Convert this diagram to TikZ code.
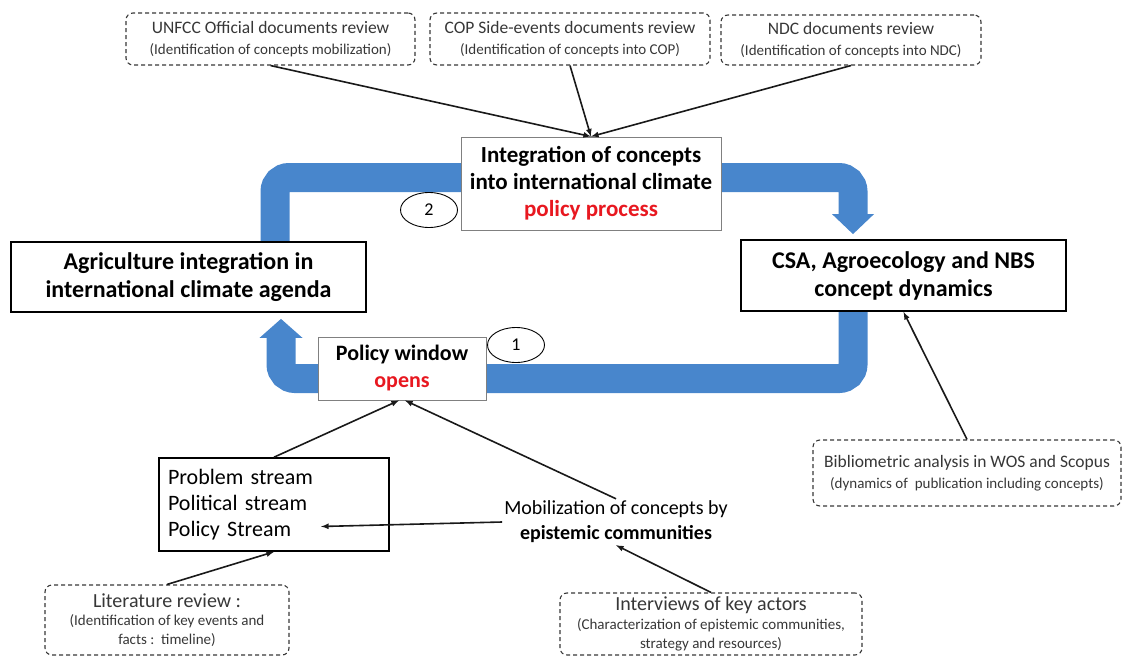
\documentclass[tikz,border=0pt]{standalone}
\usepackage{fontspec}
\setmainfont{Carlito}
\usepackage{xcolor}
\usepackage{tikz}
\usetikzlibrary{calc}
\tikzset{>=latex}
\usetikzlibrary{arrows.meta}
\usetikzlibrary{shapes.geometric}
\usetikzlibrary{backgrounds}
\definecolor{bandblue}{RGB}{72,134,204}
\definecolor{openred}{RGB}{232,24,32}
\definecolor{notegray}{RGB}{55,55,55}
\tikzset{mainbox/.style={draw,line width=1.8pt,fill=white,align=center,inner sep=0pt}}
\tikzset{stagebox/.style={draw=black!50,line width=0.9pt,fill=white,align=center,inner sep=0pt}}
\tikzset{notebox/.style={draw=notegray,dash pattern=on 4pt off 3pt,rounded corners=7pt,line width=1.1pt,align=center,inner sep=0pt,text=notegray,font=\fontsize{15}{21}\selectfont}}
\tikzset{numcirc/.style={draw,ellipse,line width=0.9pt,inner sep=0pt,minimum width=57pt,minimum height=35pt,font=\fontsize{18}{18}\selectfont}}
\tikzset{band/.style={line width=29pt,draw=bandblue,rounded corners=14pt}}
\tikzset{feed/.style={->,line width=1.6pt,black!90}}
\newcommand{\ntitle}[1]{{\fontsize{17.5}{21}\selectfont #1}}
\newcommand{\nbig}[1]{{\fontsize{20}{22}\selectfont #1}}

\begin{document}
\begin{tikzpicture}[x=1pt,y=-1pt]
\useasboundingbox (0,0) rectangle (1125,656);
% documents reviewed
\node[notebox,minimum width=289pt,minimum height=52pt] (unfcc) at (270.5,39) {\ntitle{UNFCC Official documents review}\\(Identification of concepts mobilization)};
\node[notebox,minimum width=280pt,minimum height=52pt] (cop) at (570,39) {\ntitle{COP Side-events documents review}\\(Identification of concepts into COP)};
\node[notebox,minimum width=260pt,minimum height=50pt] (ndc) at (851,40) {\ntitle{NDC documents review}\\(Identification of concepts into NDC)};
% stages of the cycle
\node[stagebox,minimum width=260pt,minimum height=93pt,font=\bfseries\fontsize{23}{27}\selectfont] (integ) at (591,183.5) {Integration of concepts\\into international climate\\\textcolor{openred}{policy process}};
\node[mainbox,minimum width=355pt,minimum height=70pt,font=\bfseries\fontsize{24}{28}\selectfont] (agri) at (188.5,277) {Agriculture integration in\\international climate agenda};
\node[mainbox,minimum width=325pt,minimum height=71pt,font=\bfseries\fontsize{24}{28}\selectfont] (csa) at (903.5,275.5) {CSA, Agroecology and NBS\\concept dynamics};
\node[stagebox,minimum width=168pt,minimum height=63pt,font=\bfseries\fontsize{22}{27}\selectfont] (pwin) at (402,368.5) {Policy window\\\textcolor{openred}{opens}};
\node[numcirc] (two) at (429,210) {2};
\node[numcirc] (one) at (516,345) {1};
% streams and actors
\node[mainbox,line width=1.6pt,text width=212pt,inner xsep=9pt,align=left,minimum height=93pt,font=\fontsize{22}{26}\selectfont] (streams) at (274,504.5) {Problem stream\\Political stream\\Policy Stream};
\node[align=center,inner sep=2pt,font=\fontsize{20}{25}\selectfont] (mob) at (616,522) {Mobilization of concepts by\\\textbf{epistemic communities}};
\node[notebox,minimum width=244pt,minimum height=70pt,font=\fontsize{15}{18.5}\selectfont] (lit) at (167,620) {\nbig{Literature review :}\\(Identification of key events and\\facts :\ \ timeline)};
\node[notebox,minimum width=302pt,minimum height=62pt,font=\fontsize{15}{19}\selectfont] (intv) at (711,624) {\nbig{Interviews of key actors}\\(Characterization of epistemic communities,\\strategy and resources)};
\node[notebox,minimum width=308pt,minimum height=66pt] (biblio) at (967,473) {\ntitle{Bibliometric analysis in WOS and Scopus}\\(dynamics of\ \ publication including concepts)};
% feeding arrows
\draw[feed] (unfcc.south) -- (integ.north);
\draw[feed] (cop.south) -- (integ.north);
\draw[feed] (ndc.south) -- (integ.north);
\draw[feed] (streams.north) -- ([xshift=-3pt]pwin.south);
\draw[feed] (mob.north) -- ([xshift=3pt]pwin.south);
\draw[feed] (mob.west) -- ([xshift=47pt,yshift=-22pt]streams.center);
\draw[feed] (lit.north) -- (streams.south);
\draw[feed] (intv.north) -- (mob.south);
\draw[feed] (biblio.north) -- (csa.south);
% the blue cycle
\begin{scope}[on background layer]
\coordinate (tl) at (275,177.5);
\coordinate (tr) at (853,177.5);
\coordinate (br) at (853,378.5);
\coordinate (bl) at (281,378.5);
\draw[band] (agri.north -| tl) -- (tl) -- (tr) -- ($(csa.north -| tr)+(0,-24)$);
\fill[bandblue] ($(csa.north -| tr)+(-21,-25)$) -- ($(csa.north -| tr)+(21,-25)$) -- ($(csa.north -| tr)+(0,-5)$) -- cycle;
\draw[band] (csa.south -| br) -- (br) -- (bl) -- ($(agri.south -| bl)+(0,24)$);
\fill[bandblue] ($(agri.south -| bl)+(-21.5,25)$) -- ($(agri.south -| bl)+(21.5,25)$) -- ($(agri.south -| bl)+(0,6)$) -- cycle;
\end{scope}
\end{tikzpicture}
\end{document}
